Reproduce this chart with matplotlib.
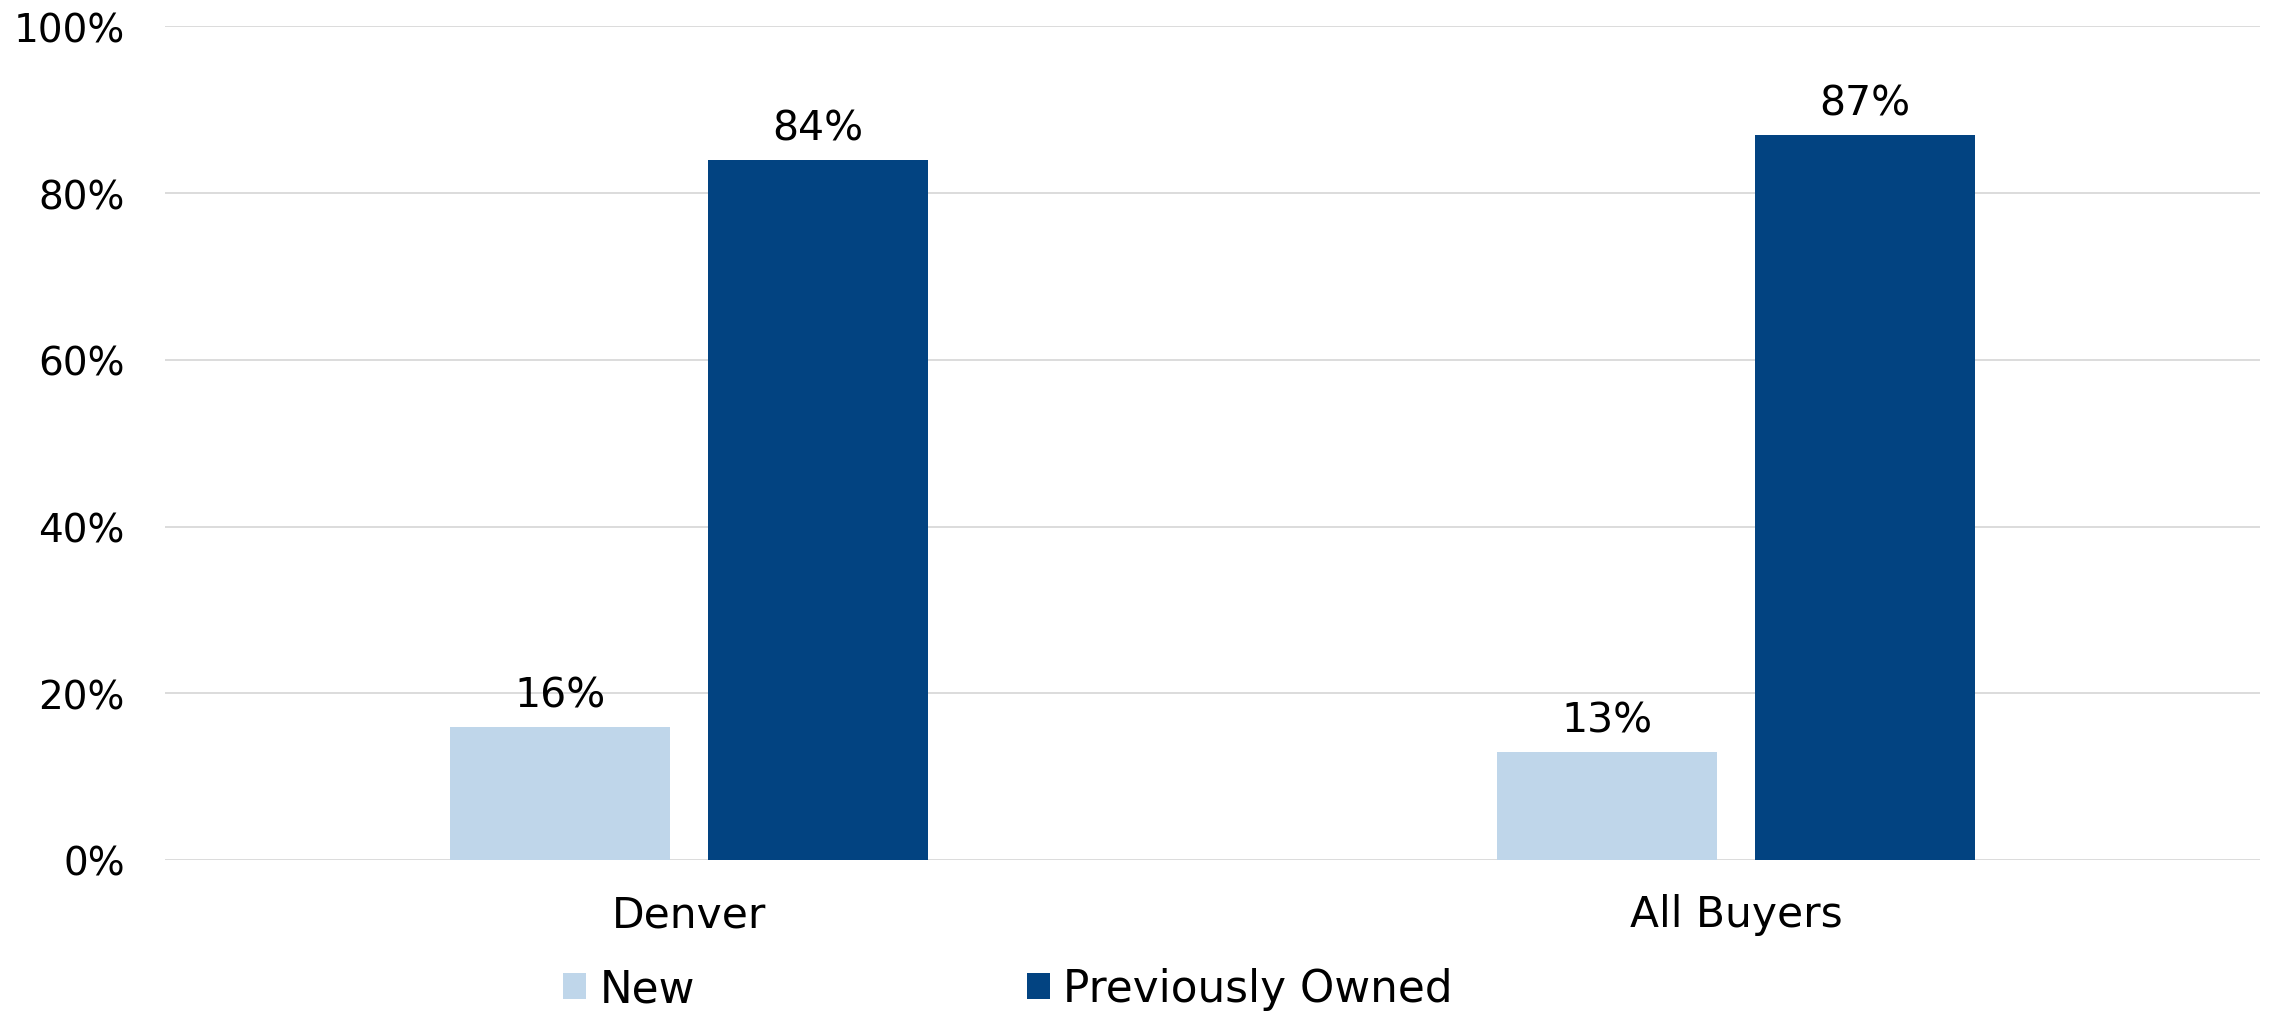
import matplotlib
matplotlib.use("Agg")
import matplotlib.pyplot as plt
import numpy as np

categories = ["Denver", "All Buyers"]
series_names = ["New", "Previously Owned"]
new_vals = [16, 13]
prev_vals = [84, 87]
y_ticks = [0, 20, 40, 60, 80, 100]
y_tick_labels = ["0%", "20%", "40%", "60%", "80%", "100%"]

LIGHT = "#BFD6EA"
DARK = "#024381"
FS_TICK = 28
FS_CAT = 30.5
FS_LAB = 29.5
FS_LEG = 31.5

plt.rcParams['font.family'] = ['DejaVu Sans']

fig = plt.figure(figsize=(22.7, 10.12), dpi=100)
ax = fig.add_axes([165/2270, 1 - 861/1012, 2095/2270, 833.7/1012])

x = np.arange(len(categories))
w = 0.21
off = 0.123
b1 = ax.bar(x - off, new_vals, w, color=LIGHT, label=series_names[0], zorder=3)
b2 = ax.bar(x + off, prev_vals, w, color=DARK, label=series_names[1], zorder=3)

for bars, vals in ((b1, new_vals), (b2, prev_vals)):
    ax.bar_label(bars, labels=[f"{v}%" for v in vals], padding=8, fontsize=FS_LAB, color="#000000")

ax.set_xlim(-0.5, 1.5)
ax.set_ylim(0, 100)
ax.set_yticks(y_ticks)
ax.set_yticklabels(y_tick_labels)
ax.set_xticks(x)
ax.set_xticklabels(categories)
ax.tick_params(axis='y', length=0, pad=29, labelsize=FS_TICK, colors="#000000")
ax.tick_params(axis='x', length=0, pad=24, labelsize=FS_CAT, colors="#000000")
ax.grid(axis='y', color="#D9D9D9", linewidth=1.3, zorder=0)
for s in ax.spines.values():
    s.set_visible(False)

fig.legend(handles=[b1, b2], labels=series_names, loc='center',
           bbox_to_anchor=(1008/2270, 1 - 990/1012), ncol=2, frameon=False,
           fontsize=FS_LEG, handlelength=0.52, handleheight=0.52, handletextpad=0.3,
           columnspacing=7.6, borderpad=0)

fig.savefig("out.png", dpi=100)
